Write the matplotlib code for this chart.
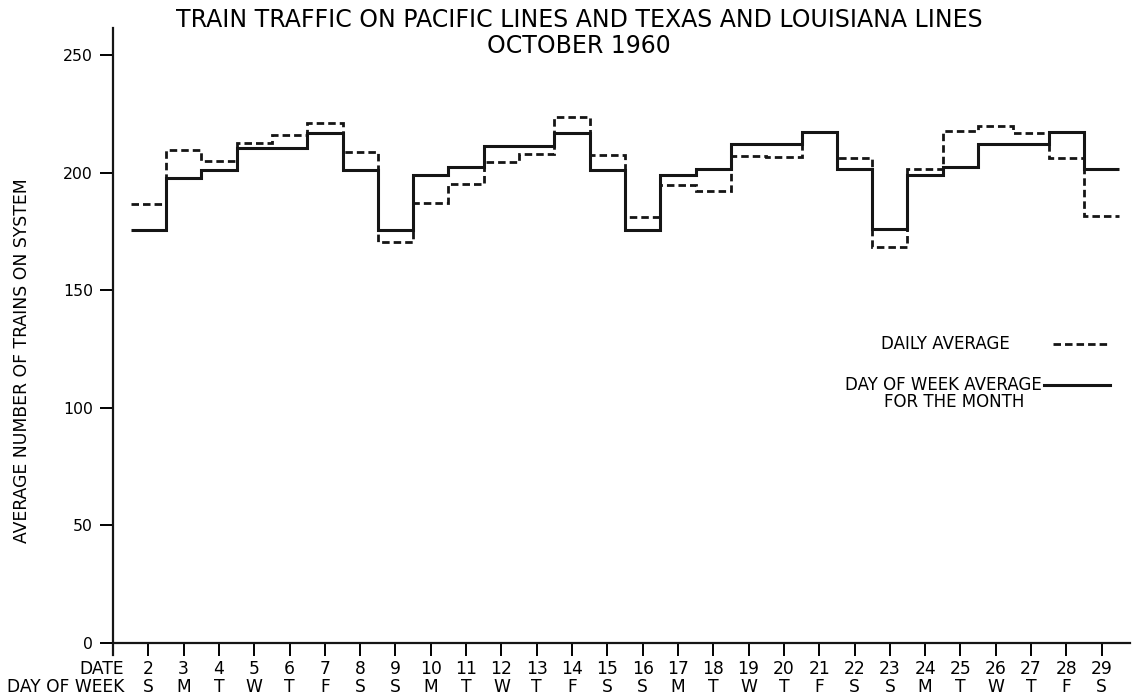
#!/usr/bin/env python3
# -*- coding: utf-8 -*-

import numpy as np
import matplotlib
matplotlib.use('Agg')
import matplotlib.pyplot as plt

# October 1960, dates 2 .. 29
dates = list(range(2, 30))
weekdays = ['S', 'M', 'T', 'W', 'T', 'F', 'S'] * 4

# daily average (dashed)
daily_avg = [186.5, 209.6, 204.9, 212.8, 216.0, 221.2, 208.9,
             170.6, 187.3, 195.1, 204.7, 207.8, 223.8, 207.5,
             181.3, 194.7, 192.2, 207.2, 206.6, 217.1, 206.4,
             168.5, 201.4, 217.8, 220.0, 216.7, 206.4, 181.6]

# day of week average for the month (solid)
dow_avg = [175.6, 197.8, 201.1, 210.3, 210.3, 216.7, 201.1,
           175.6, 198.9, 202.5, 211.3, 211.3, 216.7, 201.1,
           175.6, 198.8, 201.5, 212.0, 212.0, 217.1, 201.4,
           176.0, 199.0, 202.2, 212.0, 212.0, 217.1, 201.4]

y_ticks = [0, 50, 100, 150, 200, 250]

DASH = (0, (2.7, 1.45))
INK = '#151515'


def main():
    plt.rcParams['font.family'] = ['DejaVu Sans']
    fig = plt.figure(figsize=(11.32, 6.95), dpi=100)
    ax = fig.add_axes([0.0998, 0.0578, 0.8984, 0.9019])

    edges = np.arange(dates[0] - 0.5, dates[-1] + 1.5)
    ax.stairs(daily_avg, edges, baseline=None, color=INK,
              linewidth=2.0, linestyle=DASH)
    ax.stairs(dow_avg, edges, baseline=None, color=INK, linewidth=2.2)

    ax.set_xlim(1, 29.8)
    ax.set_ylim(-5, 261.5)

    for side in ['top', 'right']:
        ax.spines[side].set_visible(False)
    ax.spines['bottom'].set_position(('data', 0))
    ax.spines['left'].set_linewidth(1.6)
    ax.spines['bottom'].set_linewidth(1.6)
    ax.spines['left'].set_color(INK)
    ax.spines['bottom'].set_color(INK)

    ax.set_yticks(y_ticks)
    ax.set_yticklabels([str(v) for v in y_ticks], fontsize=11.3)
    ax.tick_params(axis='y', direction='out', length=9.4, width=1.4, pad=5)

    ax.set_xticks(dates)
    labels = ['%d\n%s' % (d, w) for d, w in zip(dates, weekdays)]
    ax.set_xticklabels(labels, fontsize=12.3, linespacing=1.0)
    ax.tick_params(axis='x', direction='out', length=9.4, width=1.4, pad=3)

    ax.annotate('DATE\nDAY OF WEEK', xy=(1.31, 0), xycoords='data',
                xytext=(0, -12.4), textcoords='offset points',
                ha='right', va='top', fontsize=12.3, linespacing=1.0,
                multialignment='right', annotation_clip=False)

    ax.text(-0.0895, 0.4687, 'AVERAGE NUMBER OF TRAINS ON SYSTEM',
            transform=ax.transAxes, rotation=90, ha='center', va='center',
            fontsize=12.4)

    fig.text(0.5115, 0.971,
             'TRAIN TRAFFIC ON PACIFIC LINES AND TEXAS AND LOUISIANA LINES',
             ha='center', va='center', fontsize=17)
    fig.text(0.5115, 0.934, 'OCTOBER 1960', ha='center', va='center',
             fontsize=17)

    # legend drawn by hand, like the original
    ax.text(26.40, 127.1, 'DAILY AVERAGE', ha='right', va='center',
            fontsize=12)
    ax.plot([27.62, 29.23], [127.1, 127.1], color=INK, linewidth=2.0,
            linestyle=DASH)
    ax.text(27.31, 109.7, 'DAY OF WEEK AVERAGE', ha='right', va='center',
            fontsize=12)
    ax.text(24.82, 102.5, 'FOR THE MONTH', ha='center', va='center',
            fontsize=12)
    ax.plot([27.37, 29.23], [109.7, 109.7], color=INK, linewidth=2.2)

    fig.savefig('out.png', dpi=100)


if __name__ == '__main__':
    main()
